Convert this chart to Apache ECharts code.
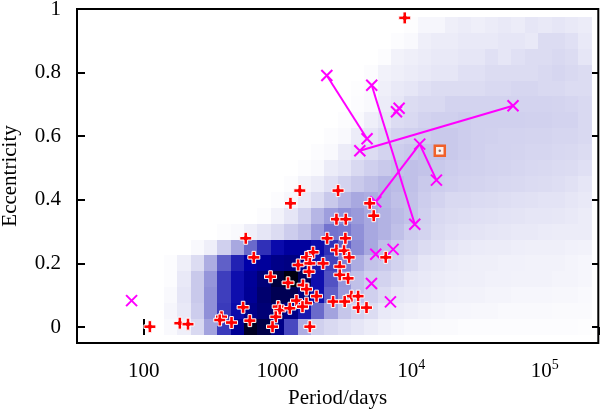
<!DOCTYPE html>
<html>
<head>
<meta charset="utf-8">
<script src="https://cdn.jsdelivr.net/npm/echarts@6/dist/echarts.min.js"></script>
<style>
html,body{margin:0;padding:0;background:#ffffff;}
#chart{width:600px;height:412px;}
</style>
</head>
<body>
<div id="chart"></div>
<script>
// ---------- data ----------
// background 2D histogram: bin centres (log10 of period in days) and eccentricity bins
const periodBinLog10 = [2.1,2.2,2.3,2.4,2.5,2.6,2.7,2.8,2.9,3.0,3.1,3.2,3.3,3.4,3.5,3.6,3.7,3.8,3.9,4.0,4.1,4.2,4.3,4.4,4.5,4.6,4.7,4.8,4.9,5.0,5.1,5.2,5.3];
const eccBins = [0,0.05,0.1,0.15,0.2,0.25,0.3,0.35,0.4,0.45,0.5,0.55,0.6,0.65,0.7,0.75,0.8,0.85,0.9,0.95];
// relative density (0..100), one row per eccentricity bin
const density = [
 [0,2,5,12,26,48,66,93,86,70,45,24,15,12,10,8,6,4,3,2,2,1.5,1.5,1,1,1,1,1,1,1,1,1,0.5],
 [0,3,7,16,30,48,58,70,76,78,70,55,38,26,18,14,11,7,6,5,4,3.5,3,3,2.5,2.5,2,2,2,2,1.5,1.5,1.5],
 [0,2,8,17,30,47,57,66,78,84,84,72,57,40,28,20,15,11,8,7,6,5,4.5,4,4,3.5,3.5,3,3,3,2.5,2.5,2],
 [0,1,7,17,29,47,57,65,75,88,97,82,57,43,29,20,15,14,11,8,7,6,5.5,5,5,4.5,4.5,4,4,4,3.5,3.5,3],
 [0,1,5,11,24,40,53,60,64,70,72,68,56,46,33,24,19,17,14,11,8,7,6,5.5,5,5,4.5,4.5,4,4,4,3.5,3],
 [0,0,0,2,5,15,25,38,50,58,63,63,58,50,40,31,25,20,16,14,11,10,8,7,6.5,6,6,5.5,5,5,5,4.5,4],
 [0,0,0,0,0,1,2,5,8,11,16,20,27,36,35,30,25,23,20,16,14,11,10,9,8.5,8,7.5,7,7,6.5,6,6,6],
 [0,0,0,0,0,0,0,0,1,4,8,14,22,27,30,28,25,23,21,19,15,12,11,10.5,10,9.5,9,8.5,8,8,7.5,7,6],
 [0,0,0,0,0,0,0,0,0,1,3,7,11,17,22,25,24,22,20,19,16,14,12,12,11.5,11,10.5,10,9.5,9,9,8,7],
 [0,0,0,0,0,0,0,0,0,0,1,4,6,10,14,17,20,22,21,20,17,16,15,14,13.5,13,12.5,12,11.5,11,10.5,9.5,8],
 [0,0,0,0,0,0,0,0,0,0,0,1,2,6,8,12,15,17,19,20,19,17,16,15,14.5,14,13.5,13,12.5,12,11.5,11,10],
 [0,0,0,0,0,0,0,0,0,0,0,0,1,2,6,8,11,14,16,17,19,19,17,16,15,14,14,13.5,13,13,12.5,12,11],
 [0,0,0,0,0,0,0,0,0,0,0,0,0,1,2,6,8,11,14,15,16,17,17,16,15,14.5,14,14,13.5,13.5,13,13,12],
 [0,0,0,0,0,0,0,0,0,0,0,0,0,0,1,2,5,8,11,12,14,15,15,16,15,15,15,15,14.5,14.5,14,14,12],
 [0,0,0,0,0,0,0,0,0,0,0,0,0,0,0,1,2,6,8,11,12,12,14,14,14,14,14,14,14,14,13.5,13,12],
 [0,0,0,0,0,0,0,0,0,0,0,0,0,0,0,0.5,1.5,5,7,8,10,11,11,11,11,12,12,13,13,12,12,11,11],
 [0,0,0,0,0,0,0,0,0,0,0,0,0,0,0,0,1,4,5,6,7,8,8,10,10,11,11,11,11,12,13,12,11],
 [0,0,0,0,0,0,0,0,0,0,0,0,0,0,0,0,0,1,4,5,6,7,7,8,8,10,8,10,11,11,12,11,8],
 [0,0,0,0,0,0,0,0,0,0,0,0,0,0,0,0,0,0,1,2,5,6,6,7,7,7,8,8,7,11,11,10,7],
 [0,0,0,0,0,0,0,0,0,0,0,0,0,0,0,0,0,0,0,0.5,3,3,5,6,5,6,7,6,8,7,8,7,6]
];

// red plus markers: period (days) and eccentricity
const redPeriod = [1469,2838,1250,2761,3243,4898,5248,579,2350,3221,665,1845,1648,2761,3148,3436,1426,1746,2193,2924,1722,2924,3373,887,1199,1552,1648,1959,1387,1648,3573,4009,2606,3184,4009,4634,553,1012,1040,1236,971,381,370,453,621,918,1746,186,214,111,6457,8954,1538];
const redEcc    = [0.429,0.429,0.389,0.339,0.339,0.389,0.350,0.279,0.279,0.279,0.219,0.235,0.219,0.242,0.240,0.219,0.195,0.200,0.200,0.190,0.174,0.164,0.153,0.158,0.139,0.132,0.119,0.097,0.083,0.075,0.097,0.097,0.080,0.080,0.061,0.061,0.062,0.064,0.053,0.059,0.032,0.032,0.022,0.014,0.020,0.001,0.001,0.012,0.009,0.001,0.219,0.972,0.064];

// magenta cross markers
const crossPeriod = [2339,4677,5070,10641,4130,57810,7762,8128,11588,5433,15453,81,5433,7328,5047,6998];
const crossEcc    = [0.791,0.592,0.760,0.323,0.554,0.696,0.677,0.688,0.575,0.394,0.462,0.083,0.229,0.244,0.137,0.079];
// pairs of crosses joined by a line (indices into the cross arrays)
const crossLinks = [[0,1],[2,3],[4,5],[8,9],[8,10]];

// orange square marker
const squarePeriod = [16368];
const squareEcc = [0.554];

const yTickValues = [0,0.2,0.4,0.6,0.8,1];
const xLogMin = 1.5, xLogMax = 5.4;

// ---------- build ----------
const binHalfLog = (periodBinLog10[1]-periodBinLog10[0])/2;
const binHalfEcc = (eccBins[1]-eccBins[0])/2;
const heatData = [];
density.forEach(function(row, r){
  row.forEach(function(v, c){
    if (v > 0) {
      const lc = periodBinLog10[c];
      heatData.push([Math.pow(10, lc-binHalfLog), Math.pow(10, lc+binHalfLog), eccBins[r]-binHalfEcc, eccBins[r]+binHalfEcc, v]);
    }
  });
});

const stops = [[0,[255,255,255]],[20,[192,192,232]],[40,[96,96,200]],[60,[0,0,168]],[80,[0,0,104]],[100,[0,0,0]]];
function levelColor(v){
  for (let i=1;i<stops.length;i++){
    if (v <= stops[i][0]) {
      const a = stops[i-1], b = stops[i];
      const t = (v-a[0])/(b[0]-a[0]);
      const c = a[1].map(function(x,k){return Math.round(x+(b[1][k]-x)*t);});
      return 'rgb('+c.join(',')+')';
    }
  }
  return 'rgb(0,0,0)';
}

const FONT = '"Liberation Serif","Times New Roman",serif';
const FS = 21;
const chart = echarts.init(document.getElementById('chart'), null, {renderer:'canvas'});

function xLabel(v){
  const p = Math.round(Math.log10(v));
  if (p <= 3) return '{base|' + Math.pow(10,p) + '}';
  return '{base|10}{sup|' + p + '}';
}

const tickStyle = {show:true, inside:true, length:8, lineStyle:{color:'#000', width:2}};

const option = {
  animation:false,
  backgroundColor:'#ffffff',
  grid:{left:77, top:9, width:521.3, height:333.9, show:true, borderColor:'#000', borderWidth:2,
        backgroundColor:'transparent', containLabel:false, outerBoundsMode:'none'},
  xAxis:[
    {type:'log', logBase:10, min:Math.pow(10,xLogMin), max:Math.pow(10,xLogMax), position:'bottom',
     axisLine:{show:false}, axisTick:tickStyle, minorTick:{show:false}, splitLine:{show:false},
     axisLabel:{show:true, margin:15, showMinLabel:false, showMaxLabel:false, formatter:xLabel, color:'#000',
       rich:{base:{fontSize:FS, fontFamily:FONT, color:'#000', lineHeight:28},
             sup:{fontSize:14, fontFamily:FONT, color:'#000', lineHeight:12, verticalAlign:'top'}}},
     name:'Period/days', nameLocation:'middle', nameGap:45,
     nameTextStyle:{fontSize:FS, fontFamily:FONT, color:'#000'}},
    {type:'log', logBase:10, min:Math.pow(10,xLogMin), max:Math.pow(10,xLogMax), position:'top',
     axisLine:{show:false}, axisTick:tickStyle, minorTick:{show:false}, splitLine:{show:false}, axisLabel:{show:false}}
  ],
  yAxis:[
    {type:'value', min:-0.05, max:1, position:'left',
     axisLine:{show:false}, splitLine:{show:false},
     axisTick:Object.assign({customValues:yTickValues}, tickStyle),
     axisLabel:{customValues:yTickValues, margin:16, fontSize:FS, fontFamily:FONT, color:'#000'},
     name:'Eccentricity', nameLocation:'middle', nameGap:56, nameRotate:90,
     nameTextStyle:{fontSize:FS, fontFamily:FONT, color:'#000'}},
    {type:'value', min:-0.05, max:1, position:'right',
     axisLine:{show:false}, splitLine:{show:false},
     axisTick:Object.assign({customValues:yTickValues}, tickStyle),
     axisLabel:{show:false}}
  ],
  series:[
    {type:'custom', coordinateSystem:'cartesian2d', xAxisIndex:0, yAxisIndex:0, silent:true, z:1,
     data:heatData, encode:{x:[0,1], y:[2,3]},
     renderItem:function(params, api){
       const tl = api.coord([api.value(0), api.value(3)]);
       const br = api.coord([api.value(1), api.value(2)]);
       const x0 = Math.round(tl[0]), y0 = Math.round(tl[1]);
       const x1 = Math.round(br[0]), y1 = Math.round(br[1]);
       return {type:'rect', shape:{x:x0, y:y0, width:x1-x0, height:y1-y0},
               style:{fill:levelColor(api.value(4)), stroke:null}};
     }},
    {type:'lines', coordinateSystem:'cartesian2d', xAxisIndex:0, yAxisIndex:0, z:3, silent:true,
     data:crossLinks.map(function(p){return {coords:[[crossPeriod[p[0]],crossEcc[p[0]]],[crossPeriod[p[1]],crossEcc[p[1]]]]};}),
     lineStyle:{color:'#ff00ff', width:2, opacity:1, curveness:0}},
    {type:'scatter', xAxisIndex:0, yAxisIndex:0, z:4, silent:true,
     data:crossPeriod.map(function(p,i){return [p, crossEcc[i]];}),
     symbol:'path://M0,0L10,10M10,0L0,10', symbolSize:11,
     itemStyle:{color:'rgba(0,0,0,0)', borderColor:'#ff00ff', borderWidth:2, opacity:1}},
    {type:'scatter', xAxisIndex:0, yAxisIndex:0, z:5, silent:true,
     data:redPeriod.map(function(p,i){return [p, redEcc[i]];}),
     symbol:'path://M3.5,0H6.5V3.5H10V6.5H6.5V10H3.5V6.5H0V3.5H3.5Z', symbolSize:12,
     itemStyle:{color:'#ff0000', borderColor:'#ffffff', borderWidth:1, opacity:1}},
    {type:'scatter', xAxisIndex:0, yAxisIndex:0, z:6, silent:true,
     data:squarePeriod.map(function(p,i){return [p, squareEcc[i]];}),
     symbol:'rect', symbolSize:10,
     itemStyle:{color:'#fbf0ec', borderColor:'#f0602a', borderWidth:2.5, opacity:1}},
    {type:'scatter', xAxisIndex:0, yAxisIndex:0, z:7, silent:true,
     data:squarePeriod.map(function(p,i){return [p, squareEcc[i]];}),
     symbol:'circle', symbolSize:2.5,
     itemStyle:{color:'#907070', opacity:1}}
  ]
};
chart.setOption(option);
</script>
</body>
</html>
